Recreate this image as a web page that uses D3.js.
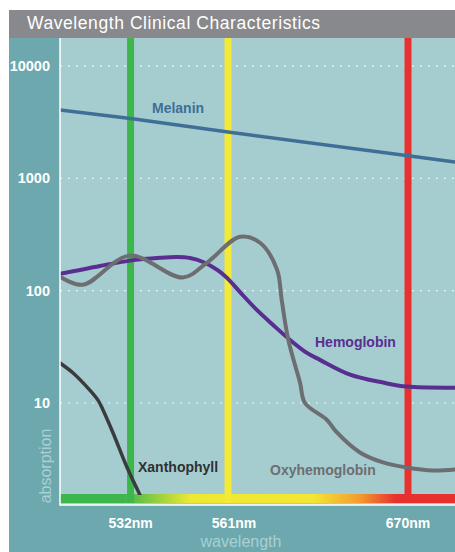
<!DOCTYPE html>
<html>
<head>
<meta charset="utf-8">
<script src="https://cdn.jsdelivr.net/npm/d3@7"></script>
<style>
  html, body { margin: 0; padding: 0; background: #fff; }
  svg { display: block; font-family: "Liberation Sans", Arial, Helvetica, sans-serif; }
</style>
</head>
<body>
<svg id="chart" width="455" height="552"></svg>
<script>
// Marked laser wavelengths (nm) and their line colours
const laserNm = [532, 561, 670];
const laserLabels = ['532nm', '561nm', '670nm'];
const laserColors = ['#3db64b', '#f3e936', '#e8302e'];

// y ticks (absorption, log)
const yTicks = [10, 100, 1000, 10000];

// curves: wavelength (nm) vs absorption
const melaninNm  = [511, 532, 561, 670, 698];
const melaninVal = [4060, 3400, 2580, 1590, 1400];

const hemoNm  = [511, 522.9, 531.8, 540.8, 545.8, 549.7, 553.6, 557.8, 560.7, 568.3, 578.6, 588.3, 598.6, 608.8, 616.7, 634.9, 654.9, 669.4, 698];
const hemoVal = [141, 166, 185, 196, 199, 195, 180, 153, 130, 97, 67, 49.5, 36.4, 27.9, 24.2, 17.9, 15.2, 14.0, 13.7];

const oxyNm  = [511, 517.8, 531.7, 547.5, 554.7, 568.3, 580.4, 590.7, 593.5, 597.5, 604.6, 607.6, 620.8, 626.8, 640.9, 654.9, 669.2, 684.9, 698];
const oxyVal = [133, 113, 205, 131, 177, 302, 267, 154, 83, 36.6, 15.2, 10, 7.1, 5.5, 3.63, 2.96, 2.67, 2.51, 2.56];

const xanNm  = [511, 514.9, 519, 522.3, 523.8, 526.8, 530.9, 534.8];
const xanVal = [22.7, 18.5, 13.9, 10.6, 8.67, 5.41, 2.69, 1.52];

(function () {
  const svg = d3.select('#chart');
  const W = 455, H = 552;
  const left = 9, top = 10;
  const plotL = 60, plotR = 455, plotT = 38, plotB = 505;
  const w = plotR - plotL;

  // backgrounds
  svg.append('rect').attr('x', left).attr('y', top).attr('width', W - left).attr('height', 28).attr('fill', '#88898c');
  svg.append('rect').attr('x', left).attr('y', plotT).attr('width', W - left).attr('height', H - plotT).attr('fill', '#6ca8ae');
  svg.append('rect').attr('x', plotL).attr('y', plotT).attr('width', w).attr('height', plotB - plotT).attr('fill', '#a5cdd0');

  svg.append('text')
    .attr('x', 27).attr('y', 29)
    .attr('fill', '#fff')
    .attr('font-size', 17.5)
    .attr('textLength', 293)
    .attr('lengthAdjust', 'spacing')
    .text('Wavelength Clinical Characteristics');

  // x is not to scale in the original: two linear pieces
  const x = d3.scaleLinear()
    .domain([511, 561, 670, 698])
    .range([plotL, plotL + 0.4253 * w, plotL + 0.881 * w, plotR]);
  const y = d3.scaleLog().domain([1.236, 17740]).range([plotB, plotT]);

  // dotted grid
  svg.append('g').selectAll('line').data(yTicks).join('line')
    .attr('x1', plotL).attr('x2', plotR)
    .attr('y1', d => y(d)).attr('y2', d => y(d))
    .attr('stroke', '#fff').attr('stroke-opacity', 0.75)
    .attr('stroke-width', 1.2).attr('stroke-dasharray', '2,6');

  // y tick labels
  svg.append('g').selectAll('text').data(yTicks).join('text')
    .attr('x', 50).attr('y', d => y(d) + 5)
    .attr('text-anchor', 'end')
    .attr('fill', '#fff').attr('font-size', 14.5).attr('font-weight', 'bold')
    .text(d => d);

  // spectrum bar along the bottom
  const grad = svg.append('defs').append('linearGradient').attr('id', 'spec')
    .attr('x1', '0%').attr('x2', '100%');
  [[0, '#3db64b'], [0.16, '#3db64b'], [0.33, '#ede834'], [0.64, '#f4e634'], [0.76, '#f39a2f'], [0.85, '#e8302e'], [1, '#e8302e']]
    .forEach(s => grad.append('stop').attr('offset', s[0]).attr('stop-color', s[1]));
  svg.append('rect').attr('x', plotL).attr('y', plotB - 11).attr('width', w).attr('height', 9).attr('fill', 'url(#spec)');

  // laser lines
  svg.append('g').selectAll('line').data(laserNm).join('line')
    .attr('x1', d => x(d)).attr('x2', d => x(d))
    .attr('y1', plotT).attr('y2', plotB - 2)
    .attr('stroke', (d, i) => laserColors[i]).attr('stroke-width', 7);

  // curves
  const clip = svg.append('clipPath').attr('id', 'clip');
  clip.append('rect').attr('x', plotL).attr('y', plotT).attr('width', w).attr('height', plotB - 11 - plotT + 1);
  const g = svg.append('g').attr('clip-path', 'url(#clip)');

  function curve(nm, vals, color, width, shape) {
    const line = d3.line().x(d => x(d[0])).y(d => y(d[1])).curve(shape);
    g.append('path')
      .datum(nm.map((n, i) => [n, vals[i]]))
      .attr('d', line)
      .attr('fill', 'none')
      .attr('stroke', color)
      .attr('stroke-width', width)
      .attr('stroke-linecap', 'round');
  }
  const smooth = d3.curveCatmullRom.alpha(0.5);
  curve(melaninNm, melaninVal, '#3f6f96', 3.5, d3.curveLinear);
  curve(hemoNm, hemoVal, '#5a2e90', 4, smooth);
  curve(oxyNm, oxyVal, '#6d6e71', 4, smooth);
  curve(xanNm, xanVal, '#3a3b3d', 3.5, smooth);

  // curve labels
  const labels = [
    { t: 'Melanin', x: 152, y: 113, c: '#3f6f96' },
    { t: 'Hemoglobin', x: 315, y: 347, c: '#5a2e90' },
    { t: 'Oxyhemoglobin', x: 270, y: 475, c: '#6d6e71' },
    { t: 'Xanthophyll', x: 138, y: 472, c: '#2f3032' }
  ];
  svg.append('g').selectAll('text').data(labels).join('text')
    .attr('x', d => d.x).attr('y', d => d.y)
    .attr('fill', d => d.c).attr('font-size', 14).attr('font-weight', 'bold')
    .text(d => d.t);

  // frame
  svg.append('path')
    .attr('d', `M${plotL},${plotT}V${plotB}H${plotR}`)
    .attr('fill', 'none').attr('stroke', '#fff').attr('stroke-width', 1.5);

  // x labels
  svg.append('g').selectAll('text').data(laserNm).join('text')
    .attr('x', (d, i) => x(d) + (i === 1 ? 6 : 0)).attr('y', 528)
    .attr('text-anchor', 'middle')
    .attr('fill', '#fff').attr('font-size', 14).attr('font-weight', 'bold')
    .text((d, i) => laserLabels[i]);

  svg.append('text')
    .attr('x', 241).attr('y', 547)
    .attr('text-anchor', 'middle')
    .attr('fill', '#a9d0d3').attr('font-size', 16)
    .text('wavelength');

  svg.append('text')
    .attr('transform', 'translate(51,466) rotate(-90)')
    .attr('text-anchor', 'middle')
    .attr('fill', '#a9d0d3').attr('font-size', 16)
    .text('absorption');
})();
</script>
</body>
</html>
